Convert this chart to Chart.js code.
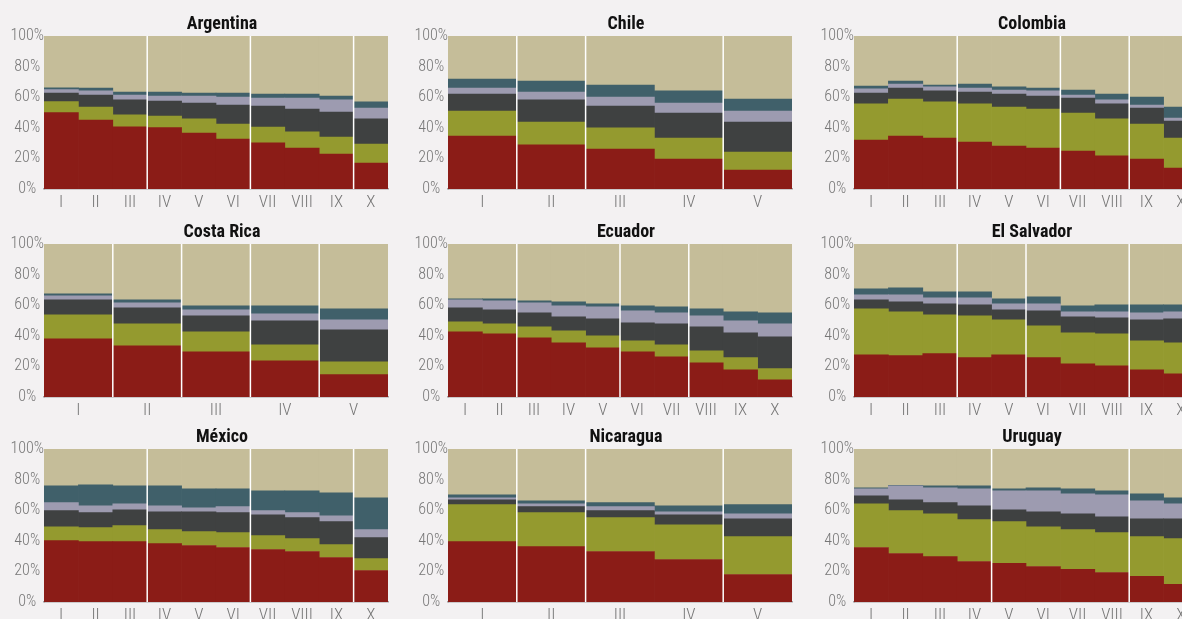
<!DOCTYPE html>
<html>
<head>
<meta charset="utf-8">
<script src="https://cdn.jsdelivr.net/npm/chart.js@4"></script>
<style>
  html, body { margin: 0; padding: 0; overflow: hidden; background: #f3f1f2; }
  #page { position: relative; width: 1240px; height: 619px; }
  .panel { position: absolute; width: 400px; height: 222px; }
  .panel canvas { position: absolute; left: 0; top: 0; }
  .title {
    position: absolute; top: 13px; left: 44px; width: 356px;
    text-align: center; font: bold 18px "Roboto Condensed", "DejaVu Sans Condensed", sans-serif;
    color: #111; line-height: 20px;
  }
</style>
</head>
<body>
<div id="page"></div>
<script>
// Categories
const deciles = ["I", "II", "III", "IV", "V", "VI", "VII", "VIII", "IX", "X"];
const quintiles = ["I", "II", "III", "IV", "V"];

// Layer names and colours (bottom to top)
const layers = ["Grupo 1", "Grupo 2", "Grupo 3", "Grupo 4", "Grupo 5", "Grupo 6"];
const layerColors = ["#8b1c17", "#949a2f", "#3f4141", "#9d9bb0", "#40606a", "#c5bd99"];

// Shares (%) per layer, one row per layer, one column per category
const argentina = [
  [49.9, 45.1, 40.7, 40.1, 36.6, 32.7, 30.1, 26.8, 22.9, 17.0],
  [7.2, 8.5, 7.7, 7.6, 9.2, 9.8, 10.4, 10.5, 11.1, 12.4],
  [5.6, 7.8, 9.8, 9.8, 10.4, 12.4, 13.7, 15.0, 16.3, 16.4],
  [2.2, 2.7, 3.2, 3.3, 4.6, 5.2, 5.3, 7.2, 7.9, 7.1],
  [1.3, 1.9, 2.0, 2.6, 1.9, 2.6, 2.6, 2.6, 2.6, 4.0],
  [33.8, 34.0, 36.6, 36.6, 37.3, 37.3, 37.9, 37.9, 39.2, 43.1]
];
const chile = [
  [34.6, 28.8, 26.1, 19.6, 12.4],
  [16.4, 15.0, 13.8, 13.7, 11.8],
  [11.1, 14.4, 14.3, 16.4, 19.6],
  [3.9, 5.2, 5.9, 6.5, 7.2],
  [5.9, 7.2, 7.9, 7.9, 7.8],
  [28.1, 29.4, 32.0, 35.9, 41.2]
];
const colombia = [
  [32.0, 34.6, 33.3, 30.7, 28.1, 26.8, 24.8, 21.6, 19.6, 13.7],
  [23.6, 24.2, 23.6, 24.9, 25.5, 25.5, 24.9, 24.2, 22.9, 19.6],
  [7.1, 7.2, 7.2, 7.8, 8.5, 8.5, 9.8, 9.8, 10.4, 11.1],
  [2.7, 2.6, 2.6, 2.6, 2.6, 3.3, 1.9, 2.6, 2.0, 2.0],
  [1.9, 2.0, 1.3, 2.6, 2.0, 1.9, 3.3, 3.9, 5.2, 7.2],
  [32.7, 29.4, 32.0, 31.4, 33.3, 34.0, 35.3, 37.9, 39.9, 46.4]
];
const costaRica = [
  [38.0, 33.5, 29.6, 23.7, 14.6],
  [15.7, 14.3, 13.0, 10.4, 8.4],
  [9.8, 10.5, 10.4, 15.7, 20.9],
  [2.6, 3.2, 4.0, 4.5, 6.5],
  [1.3, 2.0, 2.6, 5.3, 7.2],
  [32.6, 36.5, 40.4, 40.4, 42.4]
];
const ecuador = [
  [42.6, 41.3, 38.7, 35.4, 32.2, 29.6, 26.3, 22.4, 17.8, 11.3],
  [6.5, 6.5, 7.2, 7.9, 7.8, 7.1, 7.8, 7.8, 7.9, 7.2],
  [9.2, 9.2, 9.1, 9.1, 11.1, 11.8, 13.7, 15.7, 16.3, 20.8],
  [5.2, 5.8, 6.5, 7.2, 7.8, 7.8, 7.2, 7.1, 7.8, 8.5],
  [0.6, 1.3, 1.3, 2.6, 2.0, 3.3, 3.9, 4.6, 5.9, 7.2],
  [35.9, 35.9, 37.2, 37.8, 39.1, 40.4, 41.1, 42.4, 44.3, 45.0]
];
const elSalvador = [
  [27.6, 27.0, 28.3, 25.7, 27.6, 25.7, 21.7, 20.4, 17.8, 15.2],
  [30.0, 28.7, 25.4, 27.3, 22.8, 20.8, 20.3, 20.9, 18.9, 20.2],
  [5.9, 6.5, 7.2, 7.2, 6.6, 9.8, 10.4, 10.4, 13.7, 15.7],
  [3.2, 4.5, 3.9, 4.6, 3.9, 4.6, 3.3, 4.0, 4.6, 4.6],
  [4.0, 4.6, 3.9, 3.9, 3.2, 4.5, 3.9, 4.5, 5.2, 4.5],
  [29.3, 28.7, 31.3, 31.3, 35.9, 34.6, 40.4, 39.8, 39.8, 39.8]
];
const mexico = [
  [40.1, 39.5, 39.5, 38.2, 36.9, 35.6, 34.3, 33.0, 29.1, 20.6],
  [9.1, 9.1, 10.4, 9.1, 9.1, 9.7, 9.1, 8.4, 8.4, 7.8],
  [10.5, 9.8, 10.4, 11.7, 13.0, 13.1, 13.6, 13.7, 15.0, 13.7],
  [5.2, 4.5, 3.9, 3.9, 2.6, 3.9, 2.7, 3.3, 3.9, 5.2],
  [11.0, 13.7, 11.7, 13.0, 12.4, 11.7, 13.0, 14.3, 15.0, 20.8],
  [24.1, 23.4, 24.1, 24.1, 26.0, 26.0, 27.3, 27.3, 28.6, 31.9]
];
const nicaragua = [
  [39.5, 36.2, 33.0, 27.8, 18.0],
  [24.1, 22.2, 22.1, 22.7, 24.7],
  [3.2, 3.9, 4.6, 6.5, 11.7],
  [1.3, 1.9, 2.6, 2.0, 3.3],
  [2.0, 2.0, 2.6, 3.9, 5.9],
  [29.9, 33.8, 35.1, 37.1, 36.4]
];
const uruguay = [
  [35.6, 31.7, 29.7, 26.5, 25.2, 23.2, 21.3, 19.3, 16.7, 11.5],
  [28.6, 28.0, 28.0, 27.3, 27.3, 26.0, 26.0, 26.0, 26.0, 29.9],
  [5.2, 7.1, 7.2, 9.1, 7.8, 9.8, 10.4, 10.4, 11.7, 13.0],
  [4.6, 9.1, 9.7, 11.1, 12.4, 13.7, 13.0, 14.4, 11.8, 9.8],
  [0.6, 0.3, 1.3, 1.9, 1.3, 1.9, 3.3, 2.6, 4.5, 3.9],
  [25.4, 23.8, 24.1, 24.1, 26.0, 25.4, 26.0, 27.3, 29.3, 31.9]
];

// Thin white seams between some neighbouring bars (index of the bar to the right)
const argentinaGaps = [3, 6, 9];
const chileGaps = [1, 2, 4];
const colombiaGaps = [3, 6, 8];
const costaRicaGaps = [1, 2, 3, 4];
const ecuadorGaps = [2, 5, 7];
const elSalvadorGaps = [3, 5, 8];
const mexicoGaps = [3, 6, 9];
const nicaraguaGaps = [1, 2, 4];
const uruguayGaps = [4, 8];

const panels = [
  { name: "Argentina", labels: deciles, values: argentina, gaps: argentinaGaps },
  { name: "Chile", labels: quintiles, values: chile, gaps: chileGaps },
  { name: "Colombia", labels: deciles, values: colombia, gaps: colombiaGaps },
  { name: "Costa Rica", labels: quintiles, values: costaRica, gaps: costaRicaGaps },
  { name: "Ecuador", labels: deciles, values: ecuador, gaps: ecuadorGaps },
  { name: "El Salvador", labels: deciles, values: elSalvador, gaps: elSalvadorGaps },
  { name: "México", labels: deciles, values: mexico, gaps: mexicoGaps },
  { name: "Nicaragua", labels: quintiles, values: nicaragua, gaps: nicaraguaGaps },
  { name: "Uruguay", labels: deciles, values: uruguay, gaps: uruguayGaps },
];

const colLeft = [0, 404, 810];
const rowTop = [0, 208, 413];
const tickFont = "'Roboto Condensed', 'DejaVu Sans Condensed', sans-serif";

// Draw white separator lines between bars
const gapPlugin = {
  id: "barGaps",
  afterDatasetsDraw: (chart, args, opts) => {
    const ctx = chart.ctx;
    const x = chart.scales.x;
    const area = chart.chartArea;
    ctx.save();
    ctx.strokeStyle = "#ffffff";
    ctx.lineWidth = 1.5;
    (opts.at || []).forEach((i) => {
      const px = (x.getPixelForValue(i - 1) + x.getPixelForValue(i)) / 2;
      ctx.beginPath();
      ctx.moveTo(px, area.top);
      ctx.lineTo(px, area.bottom);
      ctx.stroke();
    });
    ctx.restore();
  },
};

const page = document.getElementById("page");

panels.forEach((p, k) => {
  const panel = document.createElement("div");
  panel.className = "panel";
  panel.style.left = colLeft[k % 3] + "px";
  panel.style.top = rowTop[Math.floor(k / 3)] + "px";

  const canvas = document.createElement("canvas");
  canvas.width = 400;
  canvas.height = 222;
  panel.appendChild(canvas);

  const title = document.createElement("div");
  title.className = "title";
  title.textContent = p.name;
  panel.appendChild(title);
  page.appendChild(panel);

  new Chart(canvas.getContext("2d"), {
    type: "bar",
    data: {
      labels: p.labels,
      datasets: p.values.map((vals, i) => ({
        label: layers[i],
        data: vals,
        backgroundColor: layerColors[i],
        borderWidth: 0,
        barPercentage: 1,
        categoryPercentage: 1,
      })),
    },
    options: {
      responsive: false,
      animation: false,
      layout: { padding: { top: 36, right: 12, left: 0, bottom: 15 } },
      scales: {
        x: {
          stacked: true,
          grid: { display: false, drawTicks: false },
          border: { display: true, color: "#a3a1a3", width: 1.5 },
          ticks: { color: "#777", padding: 4, font: { family: tickFont, size: 17, weight: 300 } },
          afterFit: (s) => { s.height = 18; },
        },
        y: {
          stacked: true,
          min: 0,
          max: 100,
          grid: { display: false, drawTicks: false },
          border: { display: true, color: "#b5b3b5", width: 1 },
          ticks: {
            stepSize: 20,
            padding: 0,
            crossAlign: "center",
            color: "#777",
            font: { family: tickFont, size: 16, weight: 300 },
            callback: (v) => v + "%",
          },
          afterFit: (s) => { s.width = 44; },
        },
      },
      plugins: {
        legend: { display: false },
        tooltip: { enabled: false },
        barGaps: { at: p.gaps },
      },
    },
    plugins: [gapPlugin],
  });
});
</script>
</body>
</html>
